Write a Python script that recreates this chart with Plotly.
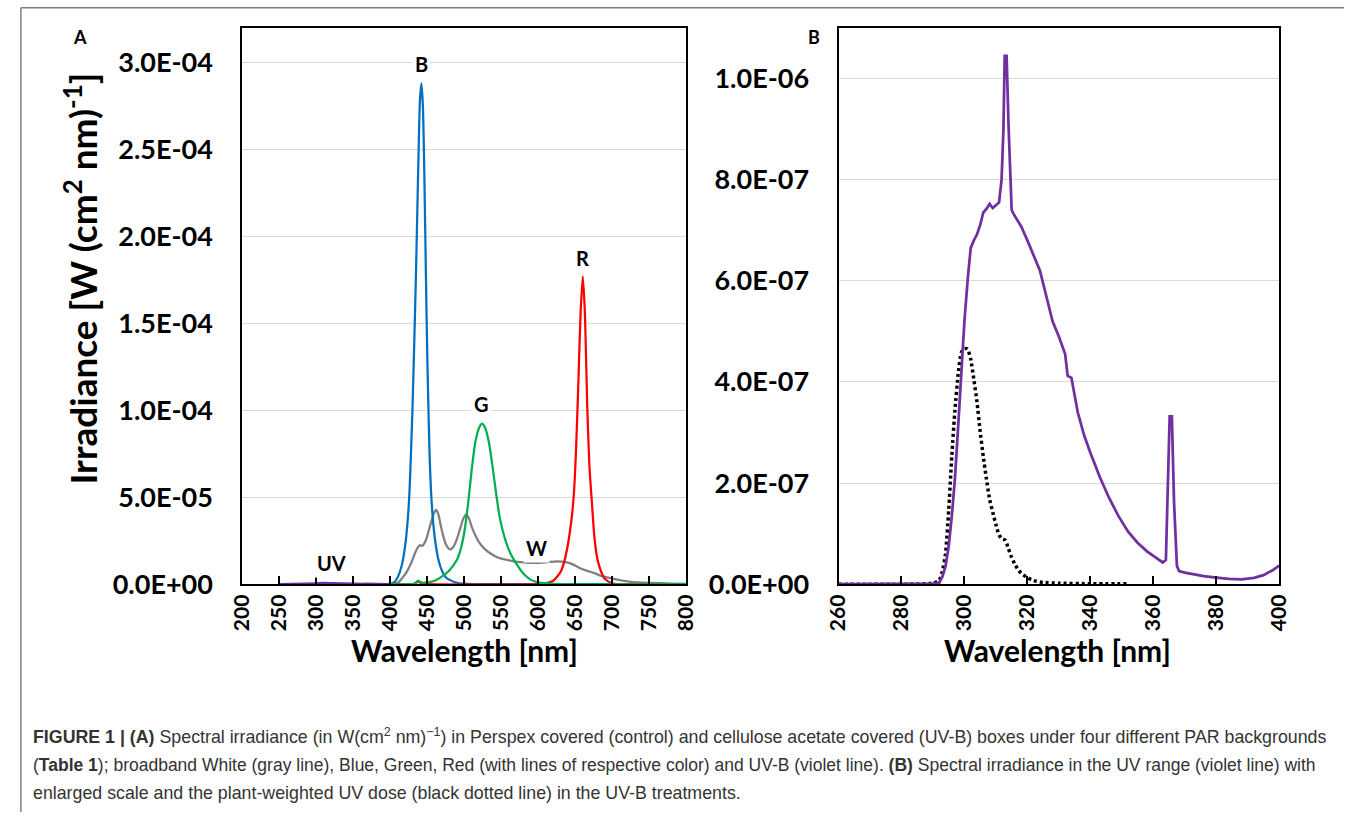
import plotly.graph_objects as go

# ---------------- data ----------------
gray_wl = [400, 405, 411, 416, 422, 428, 433, 437, 440, 443, 446, 449, 452, 456, 459, 462, 465, 468,
           471, 475, 479, 482, 486, 490, 494, 498, 501, 503, 506, 510, 515, 520, 528, 537, 546, 555,
           565, 580, 595, 610, 625, 635, 645, 655, 665, 675, 685, 700, 725, 750, 780, 800]
gray_irr = [0, 0.02e-5, 0.1e-5, 0.35e-5, 0.7e-5, 1.2e-5, 1.75e-5, 2.1e-5, 2.25e-5, 2.2e-5, 2.35e-5,
            2.65e-5, 3.1e-5, 3.7e-5, 4.1e-5, 4.27e-5, 4.0e-5, 3.4e-5, 2.85e-5, 2.3e-5, 2.05e-5,
            2.0e-5, 2.2e-5, 2.6e-5, 3.15e-5, 3.7e-5, 3.95e-5, 4.0e-5, 3.8e-5, 3.3e-5, 2.8e-5, 2.4e-5,
            2.0e-5, 1.72e-5, 1.52e-5, 1.42e-5, 1.33e-5, 1.26e-5, 1.23e-5, 1.26e-5, 1.31e-5, 1.28e-5,
            1.17e-5, 0.95e-5, 0.78e-5, 0.65e-5, 0.48e-5, 0.32e-5, 0.14e-5, 0.08e-5, 0.04e-5, 0.02e-5]

blue_wl = [400, 405, 410, 415, 420, 425, 430, 433, 435, 438, 440, 442, 444, 446, 448, 450, 453, 456,
           460, 465, 470, 475, 480, 490, 500, 520, 800]
blue_irr = [0, 0.1e-5, 0.4e-5, 1.0e-5, 2.2e-5, 4.6e-5, 10.2e-5, 15.0e-5, 18.5e-5, 24.5e-5, 27.8e-5,
            28.8e-5, 27.5e-5, 23.5e-5, 18.0e-5, 13.0e-5, 7.5e-5, 4.6e-5, 2.7e-5, 1.4e-5, 0.75e-5,
            0.4e-5, 0.25e-5, 0.08e-5, 0.03e-5, 0, 0]

green_wl = [400, 430, 434, 437, 440, 444, 450, 460, 470, 480, 490, 495, 500, 505, 510, 515, 520, 524,
            528, 533, 538, 543, 548, 555, 562, 570, 580, 590, 600, 620, 800]
green_irr = [0, 0, 0.08e-5, 0.2e-5, 0.15e-5, 0.08e-5, 0.1e-5, 0.2e-5, 0.45e-5, 0.8e-5, 1.4e-5,
             2.0e-5, 3.0e-5, 4.6e-5, 6.6e-5, 8.2e-5, 9.0e-5, 9.23e-5, 9.0e-5, 8.2e-5, 6.8e-5, 5.2e-5,
             3.8e-5, 2.6e-5, 1.8e-5, 1.2e-5, 0.6e-5, 0.25e-5, 0.1e-5, 0.02e-5, 0]

red_wl = [400, 430, 434, 437, 440, 444, 450, 600, 610, 620, 630, 635, 640, 645, 648, 651, 654, 657,
          660, 663, 666, 669, 672, 676, 680, 685, 690, 700, 710, 800]
red_irr = [0, 0, 0.05e-5, 0.15e-5, 0.1e-5, 0.02e-5, 0, 0, 0.05e-5, 0.2e-5, 0.7e-5, 1.3e-5, 2.3e-5,
           3.8e-5, 5.2e-5, 7.8e-5, 11.5e-5, 15.5e-5, 17.7e-5, 15.5e-5, 10.3e-5, 6.8e-5, 4.9e-5,
           2.6e-5, 1.4e-5, 0.7e-5, 0.3e-5, 0.05e-5, 0, 0]

uv_wl = [260, 270, 280, 290, 292, 293, 294, 295, 296, 297, 298, 299, 300, 301, 302, 303, 304, 305,
         306, 307, 308, 309, 310, 311, 311.8, 312.4, 312.8, 313.4, 314, 315, 316, 318, 320, 322, 324,
         326, 328, 330, 332, 332.8, 334, 336, 338, 340, 343, 346, 349, 352, 355, 358, 361, 363, 364,
         364.6, 365.2, 365.9, 366.6, 367.5, 368.2, 370, 373, 376, 380, 384, 388, 392, 395, 398, 400]
uv_irr = [0, 0, 0, 0.1e-8, 0.3e-8, 1.5e-8, 3.5e-8, 7.5e-8, 1.35e-7, 2.1e-7, 3.1e-7, 4.2e-7, 5.2e-7,
          6.0e-7, 6.65e-7, 6.8e-7, 6.92e-7, 7.1e-7, 7.35e-7, 7.42e-7, 7.52e-7, 7.44e-7, 7.5e-7,
          7.55e-7, 8.0e-7, 9.0e-7, 1.045e-6, 1.045e-6, 9.1e-7, 7.4e-7, 7.28e-7, 7.08e-7, 6.8e-7,
          6.5e-7, 6.2e-7, 5.7e-7, 5.2e-7, 4.9e-7, 4.55e-7, 4.12e-7, 4.08e-7, 3.4e-7, 2.95e-7,
          2.6e-7, 2.12e-7, 1.7e-7, 1.34e-7, 1.04e-7, 8.2e-8, 6.5e-8, 5.1e-8, 4.3e-8, 4.8e-8,
          1.9e-7, 3.32e-7, 3.32e-7, 1.6e-7, 3.6e-8, 2.6e-8, 2.3e-8, 1.95e-8, 1.6e-8, 1.3e-8,
          1.05e-8, 9.7e-9, 1.25e-8, 1.8e-8, 2.8e-8, 3.7e-8]

dose_wl = [260, 270, 280, 290, 292, 293, 294, 295, 296, 297, 298, 299, 300, 301, 302, 303, 304, 305,
           306, 307, 308, 309, 310, 311, 312, 313, 314, 315, 316, 317, 318, 320, 322, 325, 330, 340, 352]
dose_irr = [0, 0, 0, 0.2e-8, 0.8e-8, 2.5e-8, 6.0e-8, 1.45e-7, 2.55e-7, 3.45e-7, 4.15e-7, 4.58e-7,
            4.66e-7, 4.65e-7, 4.45e-7, 4.05e-7, 3.6e-7, 3.02e-7, 2.52e-7, 2.08e-7, 1.68e-7, 1.42e-7,
            1.18e-7, 9.7e-8, 9.0e-8, 8.7e-8, 7.0e-8, 5.3e-8, 4.0e-8, 2.9e-8, 2.2e-8, 1.3e-8, 7e-9,
            3.5e-9, 2e-9, 1e-9, 1e-9]

a_xticks = [200, 250, 300, 350, 400, 450, 500, 550, 600, 650, 700, 750, 800]
a_yticks = [0, 5e-5, 1e-4, 1.5e-4, 2e-4, 2.5e-4, 3e-4]
a_ylabels = ["0.0E+00", "5.0E-05", "1.0E-04", "1.5E-04", "2.0E-04", "2.5E-04", "3.0E-04"]
b_xticks = [260, 280, 300, 320, 340, 360, 380, 400]
b_yticks = [0, 2e-7, 4e-7, 6e-7, 8e-7, 1e-6]
b_ylabels = ["0.0E+00", "2.0E-07", "4.0E-07", "6.0E-07", "8.0E-07", "1.0E-06"]

lab_text = ["B", "G", "R", "W", "UV"]
lab_x = [442, 523.5, 660, 598, 321]
lab_y = [2.99e-4, 1.035e-4, 1.875e-4, 2.1e-5, 1.2e-5]

# ---------------- figure ----------------
W, H = 1355, 827
def px(x):
    return x / W
def py(y):
    return 1 - y / H

PURPLE = "#7030A0"
fig = go.Figure()
fig.add_trace(go.Scatter(x=[250] + uv_wl, y=[0] + uv_irr, mode="lines",
                         line=dict(color=PURPLE, width=2.25), xaxis="x", yaxis="y"))
for wl, irr, col in [(gray_wl, gray_irr, "#7F7F7F"), (blue_wl, blue_irr, "#0070C0"),
                     (red_wl, red_irr, "#FF0000"), (green_wl, green_irr, "#00B050")]:
    fig.add_trace(go.Scatter(x=wl, y=irr, mode="lines",
                             line=dict(color=col, width=2.25, shape="spline", smoothing=0.6),
                             xaxis="x", yaxis="y"))
fig.add_trace(go.Scatter(x=dose_wl, y=dose_irr, mode="lines",
                         line=dict(color="black", width=3.5, dash="3px,3px", shape="spline", smoothing=0.5),
                         xaxis="x2", yaxis="y2"))
fig.add_trace(go.Scatter(x=uv_wl, y=uv_irr, mode="lines",
                         line=dict(color=PURPLE, width=2.75), xaxis="x2", yaxis="y2"))

YTICKFONT = dict(family="Lato", size=27, color="black", weight="bold")
XTICKFONT = dict(family="Lato", size=21, color="black", weight="bold")
common_x = dict(showline=True, mirror=True, linecolor="black", linewidth=2, showgrid=False,
                zeroline=False, ticks="inside", ticklen=8, tickwidth=1.5, tickcolor="black",
                tickangle=-90, tickfont=XTICKFONT)
common_y = dict(showline=True, mirror=True, linecolor="black", linewidth=2, showgrid=True,
                gridcolor="#D9D9D9", gridwidth=1, zeroline=False, ticks="",
                tickfont=YTICKFONT, ticklabelstandoff=22)

fig.update_layout(
    width=W, height=H, margin=dict(l=0, r=0, t=0, b=0),
    paper_bgcolor="white", plot_bgcolor="white", showlegend=False,
    xaxis=dict(domain=[px(232.6), px(685)], range=[200, 800], tickvals=a_xticks,
               ticktext=[str(v) for v in a_xticks], anchor="y", **common_x),
    yaxis=dict(domain=[py(595), py(29)], range=[0, 3.195e-4], tickvals=a_yticks,
               ticktext=a_ylabels, anchor="x", **common_y),
    xaxis2=dict(domain=[px(840), px(1289)], range=[260, 400], tickvals=b_xticks,
                ticktext=[str(v) for v in b_xticks], anchor="y2", **common_x),
    yaxis2=dict(domain=[py(595), py(29)], range=[0, 1.099e-6], tickvals=b_yticks,
                ticktext=b_ylabels, anchor="x2", **common_y),
)

ann = []
for t, x, y in zip(lab_text, lab_x, lab_y):
    ann.append(dict(text=t, x=x, y=y, xref="x", yref="y", showarrow=False,
                    xanchor="center", yanchor="middle",
                    font=dict(family="Lato", size=20, color="black", weight="bold"),
                    bgcolor="white", borderpad=2))
LETTER = dict(family="Lato", size=18, color="black", weight="bold")
ann.append(dict(text="A", x=px(67), y=py(38), xref="paper", yref="paper", showarrow=False,
                xanchor="center", yanchor="middle", font=LETTER))
ann.append(dict(text="B", x=px(815), y=py(38), xref="paper", yref="paper", showarrow=False,
                xanchor="center", yanchor="middle", font=LETTER))
XTITLE = dict(family="Lato", size=30, color="black", weight="bold")
YTITLE = dict(family="Lato", size=37, color="black", weight="bold")
ann.append(dict(text="Wavelength [nm]", x=px(459), y=py(662), xref="paper", yref="paper",
                xanchor="center", yanchor="middle", showarrow=False, font=XTITLE))
ann.append(dict(text="Wavelength [nm]", x=px(1063), y=py(662), xref="paper", yref="paper",
                xanchor="center", yanchor="middle", showarrow=False, font=XTITLE))
ann.append(dict(text="Irradiance [W (cm<sup>2</sup> nm)<sup>-1</sup>]", x=px(68), y=py(284),
                xref="paper", yref="paper", xanchor="center", yanchor="middle",
                showarrow=False, textangle=-90, font=YTITLE))
cap_lines = [
    "<b>FIGURE 1 | (A)</b> Spectral irradiance (in W(cm<sup>2</sup> nm)<sup>\u22121</sup>) in Perspex covered (control) and cellulose acetate covered (UV-B) boxes under four different PAR backgrounds",
    "(<b>Table 1</b>); broadband White (gray line), Blue, Green, Red (with lines of respective color) and UV-B (violet line). <b>(B)</b> Spectral irradiance in the UV range (violet line) with",
    "enlarged scale and the plant-weighted UV dose (black dotted line) in the UV-B treatments.",
]
for line, yy, fs in zip(cap_lines, [750, 779, 808], [17.8, 17.5, 17.8]):
    ann.append(dict(text=line, x=px(17), y=py(yy), xref="paper", yref="paper", showarrow=False,
                    xanchor="left", yanchor="middle",
                    font=dict(family="Liberation Sans", size=fs, color="#333333")))
fig.update_layout(annotations=ann)

fig.add_shape(type="line", xref="paper", yref="paper", x0=px(7), x1=1, y0=py(8), y1=py(8),
              line=dict(color="#7F7F7F", width=1.5))
fig.add_shape(type="line", xref="paper", yref="paper", x0=px(7), x1=px(7), y0=py(8), y1=0,
              line=dict(color="#7F7F7F", width=1.5))

fig.write_html("out.html")
